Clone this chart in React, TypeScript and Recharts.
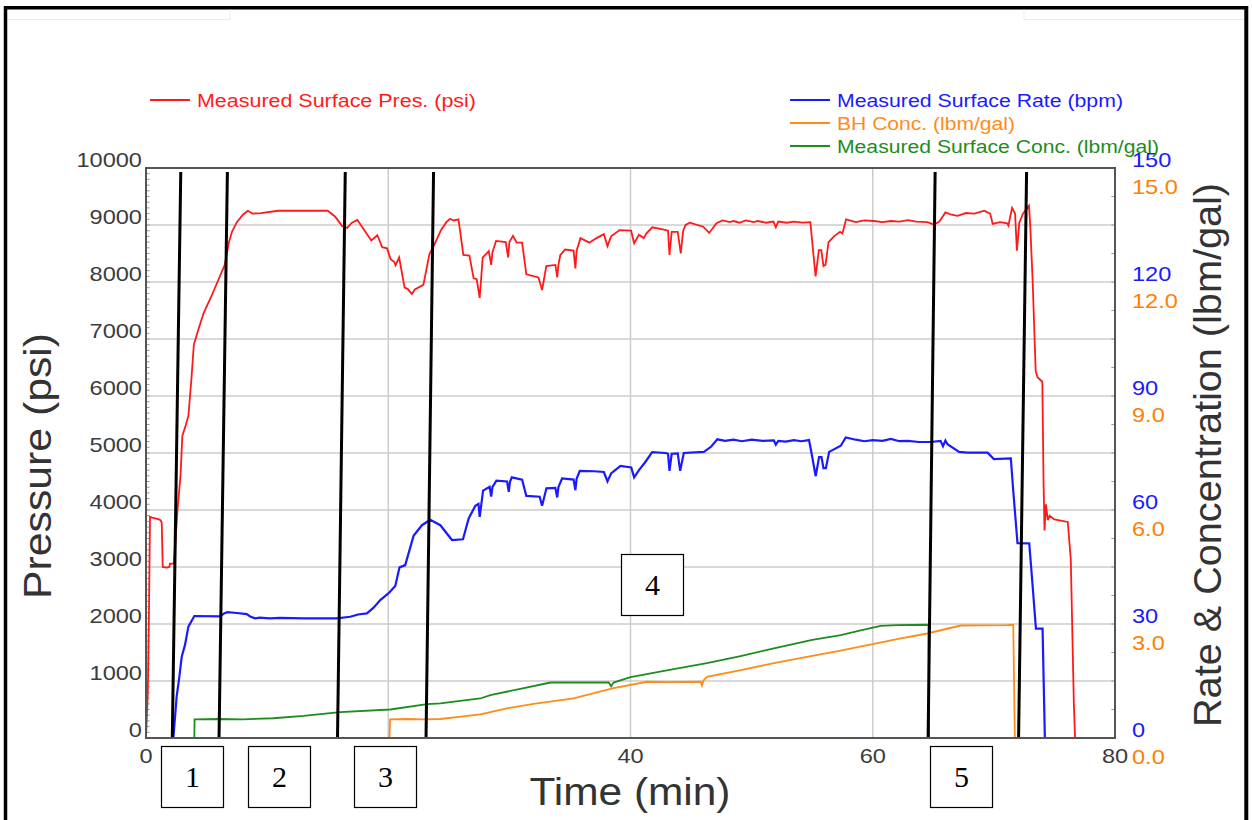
import React from 'react';
import { LineChart, Line, XAxis, YAxis, CartesianGrid, ReferenceLine, ReferenceArea } from 'recharts';

// ---- data ----
const pressure: [number, number][] = [
  [0, 0], [0.15, 800], [0.25, 2300], [0.33, 3880], [0.6, 3860], [1.0, 3840], [1.2, 3820], [1.3, 3780], [1.38, 3000],
  [1.7, 2990], [1.93, 3000], [1.98, 3060], [2.3, 3060], [2.45, 3500], [2.6, 4000], [2.85, 4600], [3.0, 5300], [3.3, 5500],
  [3.5, 5650], [3.75, 6300], [3.95, 6900], [4.3, 7150], [4.75, 7450], [5.4, 7750], [5.9, 8000], [6.5, 8300], [6.85, 8700],
  [7.1, 8880], [7.5, 9050], [8.0, 9180], [8.4, 9250], [8.8, 9200], [9.5, 9210], [10.9, 9250], [15.0, 9250], [15.6, 9150],
  [16.2, 8980], [16.6, 8950], [17.0, 9040], [17.45, 9090], [17.8, 8980], [18.6, 8730], [19.1, 8820], [19.5, 8610],
  [19.9, 8590], [20.2, 8400], [20.5, 8350], [20.6, 8290], [20.9, 8430], [21.35, 7900], [21.6, 7880], [21.95, 7790],
  [22.2, 7870], [22.9, 7950], [23.4, 8490], [23.8, 8650], [24.35, 8910], [24.8, 9050], [25.1, 9110], [25.4, 9080],
  [25.8, 9100], [26.2, 8474], [26.7, 8462], [27.05, 8065], [27.3, 8050], [27.55, 7720], [27.8, 8430], [28.3, 8540],
  [28.5, 8300], [28.6, 8520], [28.9, 8720], [29.7, 8700], [29.9, 8430], [30.0, 8700], [30.3, 8810], [30.6, 8690],
  [31.05, 8690], [31.4, 8135], [32.4, 8080], [32.7, 7860], [33.05, 8280], [33.8, 8300], [33.95, 8080], [34.05, 8300],
  [34.2, 8470], [34.6, 8570], [35.3, 8550], [35.45, 8240], [35.55, 8550], [35.87, 8770], [36.6, 8690], [37.2, 8770],
  [37.8, 8840], [38.1, 8630], [38.4, 8800], [39.1, 8910], [40.05, 8900], [40.3, 8680], [40.7, 8830], [41.1, 8770],
  [41.3, 8850], [41.8, 8960], [42.75, 8920], [43.1, 8900], [43.22, 8474], [43.4, 8880], [43.9, 8880], [44.15, 8503],
  [44.35, 8900], [44.55, 9000], [44.9, 9040], [46.0, 8970], [46.5, 8860], [47.1, 9030], [47.6, 9080], [48.2, 9050],
  [48.5, 9070], [49.0, 9040], [49.5, 9080], [50.2, 9050], [50.5, 9070], [51.2, 9040], [51.8, 9060], [52.0, 8960],
  [52.2, 9060], [52.9, 9040], [53.5, 9060], [54.2, 9040], [54.85, 9050], [55.05, 8600],
  [55.28, 8100], [55.55, 8560], [55.75, 8560], [55.93, 8280], [56.1, 8300], [56.35, 8700], [56.8, 8800], [57.3, 8880],
  [57.5, 8850], [57.8, 9100], [58.6, 9050], [59.3, 9080], [60.1, 9070], [60.8, 9050], [61.5, 9070], [62.2, 9060],
  [62.9, 9085], [63.6, 9060], [64.5, 9050], [65.05, 9010],
  [65.5, 9060], [66.0, 9220], [66.5, 9180], [67.0, 9160], [67.7, 9210], [68.4, 9200], [69.2, 9250], [69.7, 9200],
  [69.9, 9020], [70.5, 9050], [71.1, 9030],
  [71.2, 8990], [71.5, 9300], [71.75, 9200], [71.9, 8550], [72.1, 9040], [72.4, 9200], [72.9, 9340], [73.0, 9000],
  [73.2, 8030], [73.45, 6440], [73.6, 6330], [74.0, 6250], [74.1, 4500], [74.18, 3640], [74.3, 4100], [74.45, 3820],
  [74.6, 3900], [74.99, 3835], [76.1, 3790], [76.35, 3140], [76.6, 630], [76.7, 0], [80, 0],
];

const rate: [number, number][] = [
  [0, 0], [2.26, 0], [2.53, 10.9], [2.75, 16], [2.95, 21.4], [3.22, 24.5], [3.5, 29.3], [3.99, 32.1], [6.12, 32.0],
  [6.45, 32.8], [6.72, 33.1], [7.5, 32.9], [8.32, 32.6], [8.6, 32.0], [9.0, 31.5], [9.4, 31.7], [10.2, 31.5],
  [11.07, 31.6], [13, 31.5], [15.76, 31.5], [16.86, 31.9], [17.5, 32.5], [18.24, 32.8], [18.79, 34.3], [19.34, 36.3],
  [20.03, 38.1], [20.58, 40], [20.93, 44.9], [21.4, 45.5], [22.09, 53.2], [22.78, 56], [23.47, 57.4], [24.3, 56],
  [25.26, 52.1], [26.17, 52.3], [26.64, 57.8], [27.19, 61.1], [27.45, 61.6], [27.55, 58.2], [27.83, 65.1],
  [28.37, 66.1], [28.5, 63.5], [28.6, 66], [28.93, 67.7], [29.81, 67.5], [29.95, 64.8], [30.05, 67.4], [30.2, 68.6],
  [31.05, 68], [31.4, 63.7], [32.5, 63.5], [32.7, 61.1], [33.06, 65.7], [33.8, 65.8], [33.95, 63.3], [34.05, 66],
  [34.35, 68.3], [35.3, 68], [35.45, 65.2], [35.55, 68.2], [35.81, 70.3], [37.0, 70.2], [37.8, 70.0], [38.1, 67.5],
  [38.4, 69.6], [39.17, 71.6], [40.06, 71.2], [40.3, 68.6], [40.7, 70.5], [41.24, 72.7], [41.79, 75.2], [42.89, 75],
  [43.1, 74.8], [43.22, 70.3], [43.4, 74.8], [43.9, 74.9], [44.1, 70.3], [44.4, 75], [46.06, 75.3], [46.67, 76.7],
  [47.17, 78.6], [47.8, 78.2], [48.5, 78.5], [49.2, 78.1], [50, 78.5], [50.9, 78.2], [51.84, 78.3], [52.0, 77.2],
  [52.2, 78.2], [52.8, 78.0], [53.5, 78.4], [54.1, 78.1], [54.74, 78.4],
  [55.0, 74], [55.29, 68.9], [55.57, 73.9], [55.77, 73.9], [55.93, 71], [56.13, 71], [56.4, 75.3], [57.36, 76.9],
  [57.77, 79.1], [58.6, 78.5], [59.3, 78.1], [60.0, 78.4], [60.8, 78.2], [61.5, 78.7], [62.2, 78.1], [62.9, 78.2],
  [63.8, 77.9], [64.8, 77.9], [65.6, 78.2], [65.8, 76.8], [66.0, 78.3], [66.17, 77.3],
  [67.13, 75.3], [67.8, 75.1], [69.48, 75.1], [70.0, 73.4], [71.4, 73.6], [71.6, 65], [71.95, 51.3], [72.92, 51.2],
  [73.2, 40], [73.47, 28.8], [74.02, 28.8], [74.21, 0], [80, 0],
];

const bhConc: [number, number][] = [
  [0, 0], [20.1, 0], [20.15, 0.49], [21.5, 0.5], [22.92, 0.49], [24.3, 0.5], [26, 0.56], [27.6, 0.62], [29.8, 0.78],
  [32, 0.9], [35.3, 1.04], [38.6, 1.31], [41.38, 1.48], [43, 1.47], [45.8, 1.48], [45.9, 1.38], [46.0, 1.5],
  [46.3, 1.61], [49, 1.78], [51.84, 1.97], [55, 2.16], [57.36, 2.3], [58.74, 2.39], [60.1, 2.48], [62, 2.6],
  [64.5, 2.75], [67.27, 2.96], [71.1, 2.97], [71.6, 2.98], [71.73, 0], [80, 0],
];

const surfConc: [number, number][] = [
  [0, 0], [3.99, 0], [4.01, 0.49], [6, 0.5], [8, 0.49], [10.52, 0.52], [13, 0.58], [16.03, 0.68], [20.17, 0.75],
  [23.2, 0.89], [24.3, 0.91], [27.6, 1.04], [28.43, 1.13], [31, 1.3], [33.4, 1.46], [36, 1.46], [38.2, 1.46],
  [38.4, 1.36], [38.6, 1.46], [40, 1.6], [43, 1.78], [46.3, 1.97], [49, 2.15], [51.84, 2.36], [55, 2.58], [57.36, 2.71],
  [59, 2.83], [60.66, 2.95], [62, 2.97], [64.6, 2.98], [64.65, 0], [80, 0],
];

// slanted annotation lines: [time at top, time at bottom]
const stageLines: [number, number][] = [
  [2.87, 2.17], [6.72, 6.03], [16.45, 15.81], [23.74, 23.12], [65.15, 64.57], [72.7, 72.04],
];

const timeTicks = [0, 20, 40, 60, 80];
const pressureTicks = [0, 1000, 2000, 3000, 4000, 5000, 6000, 7000, 8000, 9000, 10000];
const rateTicks = [0, 30, 60, 90, 120, 150];
const minorLeft = Array.from({ length: 99 }, (_, i) => (i + 1) * 100);
const minorRight = Array.from({ length: 19 }, (_, i) => (i + 1) * 500);

const toRows = (arr: [number, number][]) => arr.map(([t, v]) => ({ t, v }));

const FONT = '"Liberation Sans", Arial, sans-serif';

const LeftTick = (props: any) => {
  const { x, y, payload } = props;
  return (
    <g transform={`translate(${x},${y})`}>
      <text x={0} y={-1} textAnchor="end" transform="scale(1.18,1)" fontSize={20} fill="#3c3c3c" fontFamily={FONT}>
        {payload.value}
      </text>
    </g>
  );
};

const RightTick = (props: any) => {
  const { x, y, payload } = props;
  return (
    <g transform={`translate(${x},${y})`}>
      <text x={0} y={-1} textAnchor="start" transform="scale(1.18,1)" fontSize={20} fill="#1a1aff" fontFamily={FONT}>
        {payload.value}
      </text>
      <text x={0} y={26} textAnchor="start" transform="scale(1.18,1)" fontSize={20} fill="#ff8000" fontFamily={FONT}>
        {(payload.value / 10).toFixed(1)}
      </text>
    </g>
  );
};

const BottomTick = (props: any) => {
  const { x, y, payload } = props;
  return (
    <g transform={`translate(${x},${y})`}>
      <text x={0} y={25} textAnchor="middle" transform="scale(1.18,1)" fontSize={20} fill="#3c3c3c" fontFamily={FONT}>
        {payload.value}
      </text>
    </g>
  );
};

const legendItems = [
  { label: 'Measured Surface Pres. (psi)', color: '#ff1a1a', x: 150, y: 100, len: 279 },
  { label: 'Measured Surface Rate (bpm)', color: '#1a1aff', x: 790, y: 100, len: 286 },
  { label: 'BH Conc. (lbm/gal)', color: '#ff8c1a', x: 790, y: 123, len: 178 },
  { label: 'Measured Surface Conc. (lbm/gal)', color: '#1e8c1e', x: 790, y: 146, len: 322 },
];

const boxes = [
  { n: '1', x: 161, y: 746 },
  { n: '2', x: 248, y: 746 },
  { n: '3', x: 354, y: 746 },
  { n: '4', x: 621, y: 554 },
  { n: '5', x: 930, y: 746 },
];

export default function App() {
  return (
    <div style={{ position: 'absolute', left: 0, top: 0, width: 1252, height: 820, background: '#fff', overflow: 'hidden' }}>
      <LineChart width={1252} height={820} margin={{ top: 168, right: 37, bottom: 52, left: 46 }}>
        <CartesianGrid yAxisId="p" stroke="#cccccc" strokeWidth={1.5} />
        <XAxis
          dataKey="t"
          type="number"
          domain={[0, 80]}
          ticks={timeTicks}
          allowDataOverflow
          height={30}
          tickSize={0}
          tickMargin={0}
          tickLine={false}
          axisLine={{ stroke: '#555', strokeWidth: 2 }}
          tick={<BottomTick />}
        />
        <YAxis
          yAxisId="p"
          domain={[0, 10000]}
          ticks={pressureTicks}
          width={100}
          tickSize={0}
          tickMargin={4}
          tickLine={false}
          axisLine={{ stroke: '#555', strokeWidth: 2 }}
          tick={<LeftTick />}
        />
        <YAxis yAxisId="c" orientation="right" domain={[0, 15]} width={0} hide />
        <YAxis
          yAxisId="r"
          orientation="right"
          domain={[0, 150]}
          ticks={rateTicks}
          width={100}
          tickSize={0}
          tickMargin={17}
          tickLine={false}
          axisLine={{ stroke: '#555', strokeWidth: 2 }}
          tick={<RightTick />}
        />
        <ReferenceArea yAxisId="p" x1={0} x2={80} y1={0} y2={10000} fill="none" fillOpacity={0} stroke="#555" strokeWidth={2} />
        {minorLeft.map((v) => (
          <ReferenceLine key={'ml' + v} yAxisId="p" segment={[{ x: 0, y: v }, { x: 0.3, y: v }]} stroke="#999" strokeWidth={1} />
        ))}
        {minorRight.map((v) => (
          <ReferenceLine key={'mr' + v} yAxisId="p" segment={[{ x: 79.7, y: v }, { x: 80, y: v }]} stroke="#999" strokeWidth={1} />
        ))}
        <Line yAxisId="p" data={toRows(pressure)} dataKey="v" type="linear" stroke="#ff1a1a" strokeWidth={1.8} dot={false} isAnimationActive={false} />
        <Line yAxisId="r" data={toRows(rate)} dataKey="v" type="linear" stroke="#1a1aff" strokeWidth={2.2} dot={false} isAnimationActive={false} />
        <Line yAxisId="c" data={toRows(bhConc)} dataKey="v" type="linear" stroke="#ff8c1a" strokeWidth={1.8} dot={false} isAnimationActive={false} />
        <Line yAxisId="c" data={toRows(surfConc)} dataKey="v" type="linear" stroke="#1e8c1e" strokeWidth={1.8} dot={false} isAnimationActive={false} />
        {stageLines.map(([a, b], i) => (
          <ReferenceLine key={'s' + i} yAxisId="p" segment={[{ x: a, y: 9930 }, { x: b, y: 0 }]} stroke="#000" strokeWidth={3} />
        ))}
      </LineChart>
      <svg width={1252} height={820} style={{ position: 'absolute', left: 0, top: 0, pointerEvents: 'none' }}>
        {/* frame */}
        <line x1={5.5} y1={6} x2={5.5} y2={820} stroke="#000" strokeWidth={3.5} />
        <line x1={4} y1={7.7} x2={1248} y2={7.7} stroke="#000" strokeWidth={3.5} />
        <line x1={1246.3} y1={6} x2={1246.3} y2={820} stroke="#000" strokeWidth={4} />
        <polyline points="8,19.5 230,19.5 230,9.5" fill="none" stroke="#ebebeb" strokeWidth={1} />
        <polyline points="1024,9.5 1024,19.5 1244,19.5" fill="none" stroke="#ebebeb" strokeWidth={1} />
        {/* legend */}
        {legendItems.map((it) => (
          <g key={it.label}>
            <line x1={it.x} y1={it.y} x2={it.x + 40} y2={it.y} stroke={it.color} strokeWidth={2} />
            <text x={it.x + 47} y={it.y + 7} fontSize={17.5} fill={it.color} fontFamily={FONT} textLength={it.len} lengthAdjust="spacingAndGlyphs">
              {it.label}
            </text>
          </g>
        ))}
        {/* axis titles */}
        <text x={51} y={466} transform="rotate(-90 51 466)" textAnchor="middle" fontSize={38} fill="#333" fontFamily={FONT} textLength={266} lengthAdjust="spacingAndGlyphs">
          Pressure (psi)
        </text>
        <text x={1221} y={455} transform="rotate(-90 1221 455)" textAnchor="middle" fontSize={38} fill="#333" fontFamily={FONT} textLength={544} lengthAdjust="spacingAndGlyphs">
          Rate &amp; Concentration (lbm/gal)
        </text>
        <text x={630} y={805} textAnchor="middle" fontSize={38} fill="#333" fontFamily={FONT} textLength={201} lengthAdjust="spacingAndGlyphs">
          Time (min)
        </text>
        {/* stage boxes */}
        {boxes.map((b) => (
          <g key={b.n}>
            <rect x={b.x + 0.5} y={b.y + 0.5} width={62} height={61} fill="#fff" stroke="#000" strokeWidth={1.2} />
            <text x={b.x + 31.5} y={b.y + 41} textAnchor="middle" fontSize={30} fill="#000" fontFamily='"Liberation Serif", "Times New Roman", serif'>
              {b.n}
            </text>
          </g>
        ))}
      </svg>
    </div>
  );
}
